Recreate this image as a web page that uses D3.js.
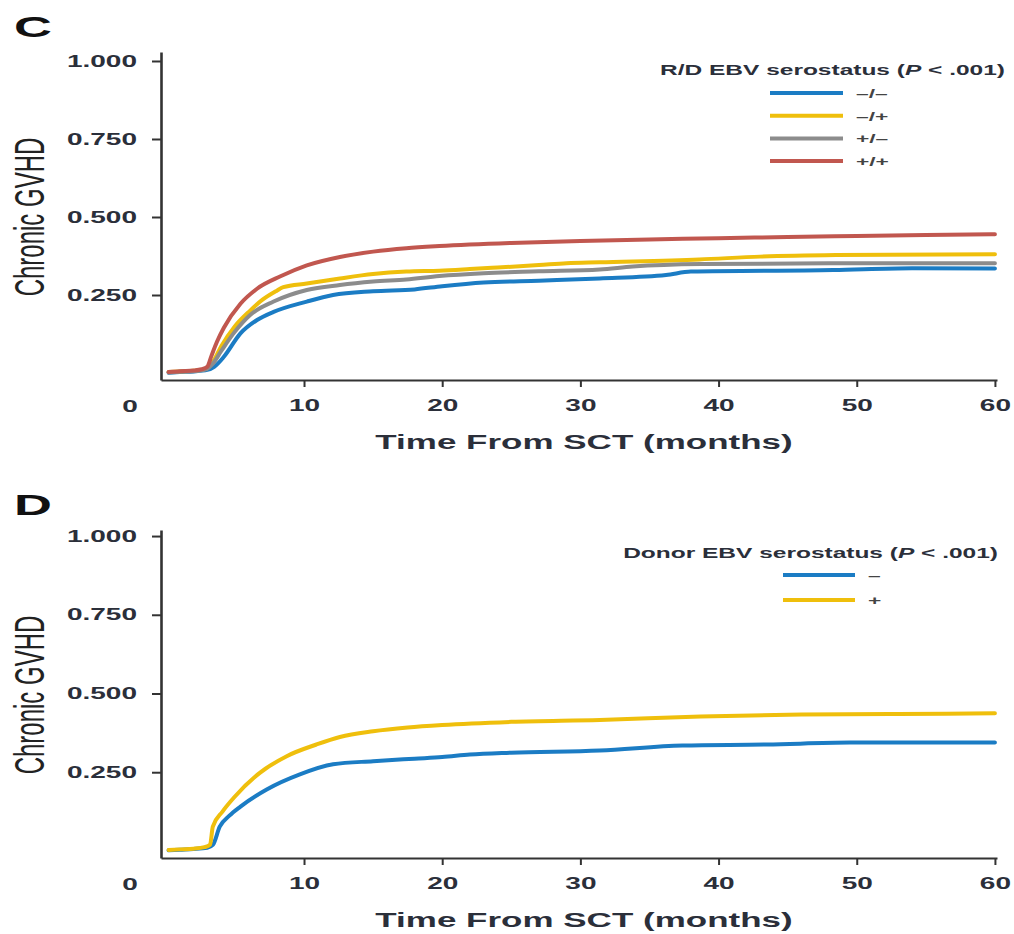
<!DOCTYPE html>
<html>
<head>
<meta charset="utf-8">
<script src="https://cdn.jsdelivr.net/npm/d3@7"></script>
<style>
  body { margin: 0; background: #fff; }
  svg { display: block; }
</style>
</head>
<body>
<div id="chart"></div>
<script>
// data: [months, cumulative incidence]
const rdNegNeg = [[0.2,0.001],[1,0.003],[2,0.005],[3,0.01],[3.5,0.02],[4.2,0.052],[5.4,0.127],[6.6,0.17],[7.8,0.196],[10.2,0.229],[12.1,0.25],[15,0.262],[18,0.268],[20,0.278],[23,0.29],[27,0.296],[31.4,0.303],[36.2,0.314],[38,0.325],[48.3,0.33],[54,0.336],[60,0.335]];
const rdNegPos = [[0.2,0.003],[1,0.005],[2,0.007],[2.9,0.013],[3.4,0.035],[4,0.085],[5,0.15],[6.1,0.2],[7,0.235],[8,0.263],[8.5,0.275],[10.2,0.287],[12.6,0.303],[15,0.317],[17.4,0.325],[19.8,0.328],[22,0.333],[24,0.338],[27,0.346],[29,0.352],[31.4,0.355],[38.6,0.364],[43,0.373],[48.5,0.378],[60,0.381]];
const rdPosNeg = [[0.2,0.002],[1,0.004],[2,0.006],[2.9,0.012],[3.4,0.03],[4,0.07],[4.9,0.127],[6.1,0.186],[7.8,0.229],[10.2,0.266],[12.6,0.282],[15,0.293],[17.4,0.3],[19.8,0.311],[23,0.32],[27,0.326],[31.4,0.332],[33.8,0.341],[38.7,0.349],[48,0.352],[60,0.352]];
const rdPosPos = [[0.2,0.003],[1,0.006],[2,0.008],[2.6,0.012],[3,0.02],[3.3,0.055],[3.7,0.1],[4.2,0.145],[5.4,0.222],[6.6,0.27],[8.3,0.31],[10.2,0.345],[12.6,0.372],[15,0.389],[17.4,0.4],[19.8,0.407],[25,0.417],[30,0.423],[35,0.428],[40,0.432],[45,0.436],[50,0.439],[55,0.442],[60,0.445]];

const donorNeg = [[0.2,0.002],[1,0.004],[2,0.006],[3,0.01],[3.4,0.019],[3.9,0.077],[4.6,0.112],[5.4,0.141],[7.3,0.195],[9.7,0.243],[12.1,0.275],[15,0.285],[18,0.293],[20,0.298],[22,0.306],[25,0.312],[31.4,0.319],[37.4,0.335],[43.5,0.338],[49.5,0.344],[60,0.344]];
const donorPos = [[0.2,0.003],[1,0.005],[2,0.007],[2.8,0.012],[3.2,0.02],[3.4,0.077],[4.1,0.125],[4.9,0.168],[6.8,0.248],[8.75,0.301],[10.9,0.338],[12.6,0.362],[15,0.38],[17.5,0.392],[20,0.4],[25,0.41],[31.4,0.416],[38.7,0.427],[46,0.433],[53,0.435],[60,0.437]];

const rdLabels = ['–/–', '–/+', '+/–', '+/+'];
const rdColors = ['#1b7cc4', '#efbf0c', '#8c8c8c', '#c1574f'];
const donorLabels = ['–', '+'];
const donorColors = ['#1b7cc4', '#efbf0c'];

const xTicks = [10, 20, 30, 40, 50, 60];
const yTicks = [0.25, 0.5, 0.75, 1];

const width = 1014, height = 934;
const SX = 1.75; // the figure is stretched sideways
const textColor = '#2b2f3a';

const svg = d3.select('#chart').append('svg')
  .attr('width', width).attr('height', height)
  .style('font-family', '"Liberation Sans", Arial, sans-serif');

// widen a text around its own anchor
function stretch(sel) {
  sel.each(function () {
    const t = d3.select(this);
    const ax = +t.attr('x') || 0;
    t.attr('transform', `translate(${ax * (1 - SX)},0) scale(${SX},1)`);
  });
}

function drawPanel(p) {
  const g = svg.append('g').attr('transform', `translate(0,${p.top})`);

  const x = d3.scaleLinear().domain([-0.35, 60.15]).range([161, 997]);
  const y = d3.scaleLinear().domain(p.yDomain).range([380, 52]);

  // panel letter
  g.append('text').attr('x', 14).attr('y', 37)
    .attr('font-size', 30).attr('font-weight', 'bold').attr('fill', '#111')
    .text(p.letter).call(stretch);

  // y axis
  const ya = g.append('g').attr('transform', 'translate(161,0)')
    .call(d3.axisLeft(y).tickValues(yTicks).tickFormat(d3.format('.3f'))
      .tickSize(9).tickSizeOuter(0).tickPadding(15));
  ya.select('.domain').attr('stroke', '#333').attr('stroke-width', 2.6);
  ya.selectAll('.tick line').attr('stroke', '#333').attr('stroke-width', 2);
  ya.selectAll('.tick text').attr('font-size', 16).attr('font-weight', 'bold')
    .attr('fill', textColor).attr('font-family', '"Liberation Sans", Arial, sans-serif')
    .call(stretch);

  // x axis
  const xa = g.append('g').attr('transform', 'translate(0,380)')
    .call(d3.axisBottom(x).tickValues(xTicks).tickSize(7).tickSizeOuter(0).tickPadding(13));
  xa.select('.domain').attr('stroke', '#333').attr('stroke-width', 2.2);
  xa.selectAll('.tick line').attr('stroke', '#333').attr('stroke-width', 2);
  xa.selectAll('.tick text').attr('font-size', 16).attr('font-weight', 'bold')
    .attr('fill', textColor).attr('font-family', '"Liberation Sans", Arial, sans-serif')
    .call(stretch);

  // origin label
  g.append('text').attr('x', 130).attr('y', 412)
    .attr('text-anchor', 'middle').attr('font-size', 16).attr('font-weight', 'bold')
    .attr('fill', textColor).text('0').call(stretch);

  // axis titles
  g.append('text').attr('x', 584).attr('y', 449)
    .attr('text-anchor', 'middle').attr('font-size', 20).attr('font-weight', 'bold')
    .attr('fill', textColor).text('Time From SCT (months)').call(stretch);

  g.append('text')
    .attr('transform', `translate(29,217) scale(${SX},1) rotate(-90)`)
    .attr('text-anchor', 'middle').attr('dominant-baseline', 'central')
    .attr('font-size', 24).attr('fill', '#222')
    .text('Chronic GVHD');

  // curves
  const line = d3.line().x(d => x(d[0])).y(d => y(d[1])).curve(d3.curveMonotoneX);
  g.append('g').selectAll('path').data(p.series).join('path')
    .attr('d', line).attr('fill', 'none')
    .attr('stroke', (d, i) => p.colors[i]).attr('stroke-width', 4)
    .attr('stroke-linejoin', 'round').attr('stroke-linecap', 'round');

  // legend
  const lg = g.append('g');
  const title = lg.append('text').attr('x', p.legend.titleRight).attr('y', p.legend.titleY)
    .attr('text-anchor', 'end').attr('font-size', 14).attr('font-weight', 'bold')
    .attr('fill', textColor);
  title.append('tspan').text(p.legend.title + ' (');
  title.append('tspan').attr('font-style', 'italic').text('P');
  title.append('tspan').text(' < .001)');
  title.call(stretch);

  const items = lg.selectAll('g.item').data(p.labels).join('g').attr('class', 'item')
    .attr('transform', (d, i) => `translate(0,${p.legend.y0 + i * p.legend.dy})`);
  items.append('line').attr('x1', p.legend.x1).attr('x2', p.legend.x2)
    .attr('stroke', (d, i) => p.colors[i]).attr('stroke-width', 4);
  items.append('text').attr('x', p.legend.x2 + 13).attr('y', 5)
    .attr('font-size', 13).attr('font-weight', 'bold').attr('fill', '#444')
    .text(d => d).call(stretch);
}

drawPanel({
  top: 0, letter: 'C', yDomain: [-0.0224, 1.0288],
  series: [rdNegNeg, rdNegPos, rdPosNeg, rdPosPos], colors: rdColors, labels: rdLabels,
  legend: { title: 'R/D EBV serostatus', titleRight: 1005, titleY: 75, x1: 770, x2: 843, y0: 93, dy: 22.7 }
});

drawPanel({
  top: 478, letter: 'D', yDomain: [-0.0224, 1.0192],
  series: [donorNeg, donorPos], colors: donorColors, labels: donorLabels,
  legend: { title: 'Donor EBV serostatus', titleRight: 998, titleY: 80, x1: 783, x2: 855, y0: 97, dy: 25 }
});
</script>
</body>
</html>
